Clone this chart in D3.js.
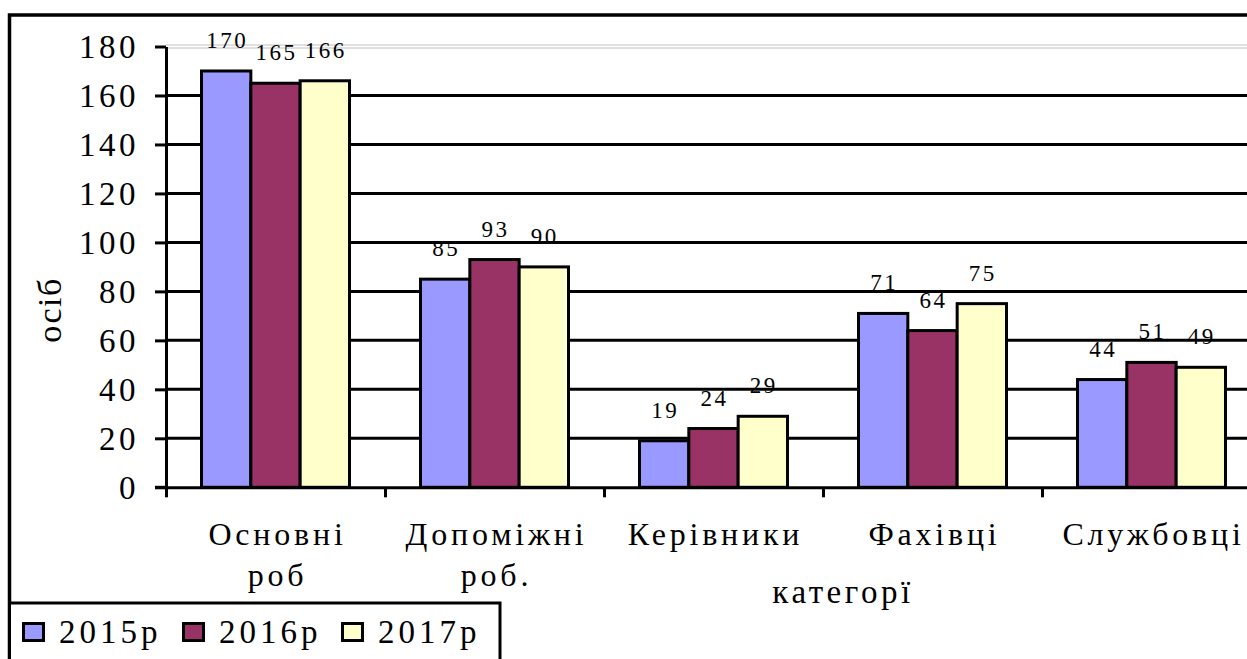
<!DOCTYPE html>
<html>
<head>
<meta charset="utf-8">
<script src="https://cdn.jsdelivr.net/npm/d3@7"></script>
<style>
  body { margin: 0; background: #fff; }
  svg text { font-family: "Liberation Serif", "Times New Roman", serif; }
</style>
</head>
<body>
<svg></svg>
<script>
const categories = [['Основні', 'роб'], ['Допоміжні', 'роб.'], ['Керівники'], ['Фахівці'], ['Службовці']];
const seriesNames = ['2015р', '2016р', '2017р'];
const seriesColors = ['#9999ff', '#993366', '#ffffcc'];
const values2015 = [170, 85, 19, 71, 44];
const values2016 = [165, 93, 24, 64, 51];
const values2017 = [166, 90, 29, 75, 49];
const yTicks = [0, 20, 40, 60, 80, 100, 120, 140, 160, 180];

const width = 1247;
const height = 659;
const left = 166;
const bandW = 219;
const groupW = 148;

const svg = d3.select('svg').attr('width', width).attr('height', height);

const catKeys = categories.map(c => c.join(' '));
const allValues = [values2015, values2016, values2017];

const x0 = d3.scaleBand().domain(catKeys).range([left, left + bandW * catKeys.length]);
const x1 = d3.scaleBand().domain(seriesNames)
    .range([(bandW - groupW) / 2, (bandW + groupW) / 2]);
const y = d3.scaleLinear().domain([0, 180]).range([487.3, 46.5]);

// outer frame
svg.append('rect')
    .attr('x', 9.5).attr('y', 15)
    .attr('width', 1400).attr('height', 800)
    .attr('fill', 'none').attr('stroke', '#000').attr('stroke-width', 3.5);

// gridlines
yTicks.filter(t => t > 0 && t < 180).forEach(t => {
    svg.append('line')
        .attr('x1', left).attr('x2', width)
        .attr('y1', y(t)).attr('y2', y(t))
        .attr('stroke', '#000').attr('stroke-width', 3);
});
[-1.5, 1.5].forEach(d => {
    svg.append('line')
        .attr('x1', left).attr('x2', width)
        .attr('y1', y(180) + d).attr('y2', y(180) + d)
        .attr('stroke', '#c0c0c0').attr('stroke-width', 1);
});

// bars
catKeys.forEach((cat, ci) => {
    const g = svg.append('g').attr('transform', `translate(${x0(cat)},0)`);
    seriesNames.forEach((s, si) => {
        const v = allValues[si][ci];
        g.append('rect')
            .attr('x', x1(s))
            .attr('y', y(v))
            .attr('width', x1.bandwidth())
            .attr('height', y(0) - y(v))
            .attr('fill', seriesColors[si])
            .attr('stroke', '#000')
            .attr('stroke-width', 3);
    });
    seriesNames.forEach((s, si) => {
        const v = allValues[si][ci];
        g.append('text')
            .attr('x', x1(s) + x1.bandwidth() / 2 + 1)
            .attr('y', y(v) - 23)
            .attr('text-anchor', 'middle')
            .attr('font-size', 23)
            .attr('letter-spacing', 2.5)
            .text(v);
    });
});

// y axis
const yAxis = d3.axisLeft(y).tickValues(yTicks).tickSize(11).tickPadding(16).tickSizeOuter(0);
const yg = svg.append('g').attr('transform', `translate(${left},0)`).call(yAxis);
yg.attr('font-family', null);
yg.select('.domain').attr('stroke-width', 3);
yg.selectAll('.tick line').attr('stroke-width', 3);
yg.selectAll('.tick text')
    .attr('font-size', 33).attr('letter-spacing', 3.5)
    .attr('fill', '#000')
    .attr('dy', '0.34em');

// x axis
const xAxisScale = d3.scaleLinear().domain([0, 5]).range([left, left + bandW * 5]);
const xAxis = d3.axisBottom(xAxisScale).tickValues([0, 1, 2, 3, 4, 5]).tickSize(10).tickFormat('').tickSizeOuter(0);
const xg = svg.append('g').attr('transform', `translate(0,${y(0)})`).call(xAxis);
xg.select('.domain').attr('stroke-width', 3);
xg.selectAll('.tick line').attr('stroke-width', 3);
svg.append('line')
    .attr('x1', left - 11).attr('x2', left)
    .attr('y1', y(0)).attr('y2', y(0))
    .attr('stroke', '#000').attr('stroke-width', 3);

// category labels
categories.forEach((lines, ci) => {
    const cx = x0(catKeys[ci]) + bandW / 2 + 2;
    lines.forEach((ln, li) => {
        svg.append('text')
            .attr('x', cx).attr('y', 545 + li * 41)
            .attr('text-anchor', 'middle')
            .attr('font-size', 32).attr('letter-spacing', 3.8)
            .text(ln);
    });
});

// axis titles
svg.append('text')
    .attr('x', 843).attr('y', 603)
    .attr('text-anchor', 'middle')
    .attr('font-size', 33).attr('letter-spacing', 3.5)
    .text('категорї');
svg.append('text')
    .attr('transform', 'translate(61,310) rotate(-90)')
    .attr('text-anchor', 'middle')
    .attr('font-size', 34).attr('letter-spacing', 1.5)
    .text('осіб');

// legend
const legend = svg.append('g');
legend.append('rect')
    .attr('x', 9.5).attr('y', 603)
    .attr('width', 490.5).attr('height', 100)
    .attr('fill', '#fff').attr('stroke', '#000').attr('stroke-width', 3);
const legendX = [22, 182, 341];
seriesNames.forEach((s, i) => {
    legend.append('rect')
        .attr('x', legendX[i] + 1.5).attr('y', 623.5)
        .attr('width', 20).attr('height', 17)
        .attr('fill', seriesColors[i]).attr('stroke', '#000').attr('stroke-width', 3);
    legend.append('text')
        .attr('x', legendX[i] + 37).attr('y', 643)
        .attr('font-size', 33).attr('letter-spacing', 4)
        .text(s);
});
</script>
</body>
</html>
